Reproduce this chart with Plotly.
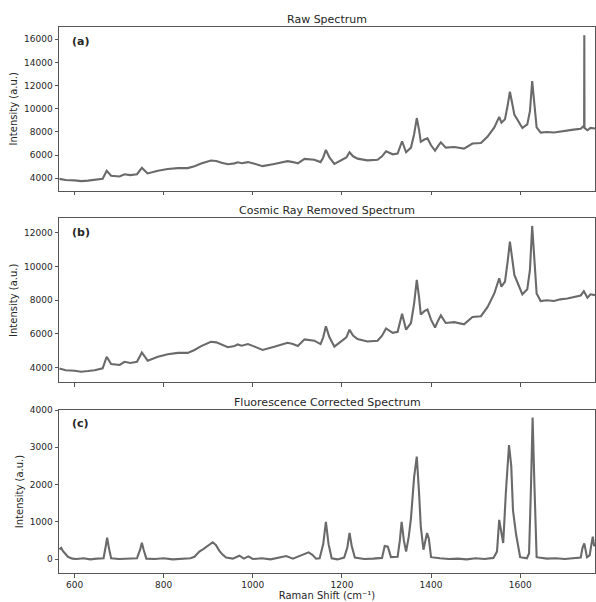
import plotly.graph_objects as go
from plotly.subplots import make_subplots

# ---- data (Raman shift in cm^-1, intensity a.u.) ----
removed_shift = [566, 580, 600, 615, 630, 645, 663, 672, 682, 701, 712, 725, 740, 751, 764,
                 787, 809, 832, 854, 869, 884, 906, 918, 930, 944, 959, 966, 975, 989, 1004,
                 1022, 1048, 1065, 1078, 1090, 1101, 1116, 1128, 1138, 1152, 1158, 1164, 1172,
                 1183, 1198, 1210, 1217, 1225, 1235, 1257, 1280, 1290, 1299, 1306, 1314, 1325,
                 1335, 1344, 1355, 1362, 1368, 1373, 1377, 1385, 1392, 1400, 1409, 1416, 1422,
                 1433, 1452, 1474, 1493, 1512, 1527, 1542, 1553, 1558, 1566, 1572, 1577, 1582,
                 1587, 1594, 1605, 1616, 1622, 1627, 1632, 1637, 1646, 1660, 1676, 1690, 1706,
                 1720, 1736, 1743, 1751, 1758, 1768]
removed_intensity = [3950, 3850, 3820, 3760, 3800, 3850, 3960, 4650, 4220, 4160, 4350, 4280,
                     4350, 4900, 4420, 4650, 4800, 4880, 4880, 5050, 5280, 5540, 5500, 5350,
                     5210, 5290, 5380, 5300, 5400, 5250, 5050, 5240, 5350, 5480, 5400, 5290,
                     5680, 5650, 5600, 5400, 5800, 6450, 5800, 5250, 5540, 5800, 6250, 5900,
                     5700, 5550, 5600, 5900, 6330, 6200, 6070, 6130, 7200, 6250, 6650, 7800,
                     9200, 8200, 7150, 7350, 7450, 6850, 6380, 6800, 7100, 6650, 6700, 6570,
                     7000, 7050, 7600, 8400, 9300, 8800, 9100, 10300, 11470, 10500, 9500, 9050,
                     8350, 8650, 9800, 12400, 10300, 8400, 7950, 8000, 7950, 8050, 8100, 8200,
                     8280, 8530, 8150, 8350, 8300]

spike_shift = [1743.6, 1744.0, 1744.4]
spike_intensity = [8350, 16350, 8350]

corrected_shift = [566, 570, 574, 580, 585, 595, 604, 620, 635, 650, 665, 670, 673, 677, 682,
                   700, 720, 740, 747, 751, 755, 761, 780, 800, 820, 840, 860, 869, 880, 888,
                   895, 903, 910, 917, 925, 932, 940, 955, 970, 980, 990, 1000, 1020, 1040,
                   1060, 1075, 1090, 1105, 1115, 1125, 1133, 1142, 1150, 1158, 1164, 1170,
                   1177, 1190, 1205, 1212, 1217, 1222, 1229, 1250, 1270, 1290, 1296, 1303,
                   1310, 1325, 1330, 1334, 1339, 1344, 1350, 1355, 1362, 1368, 1373, 1377,
                   1383, 1391, 1395, 1400, 1420, 1440, 1460, 1480, 1500, 1520, 1540, 1548,
                   1553, 1557, 1562, 1568, 1575, 1580, 1584, 1591, 1596, 1600, 1615, 1620,
                   1624, 1628, 1632, 1637, 1660, 1680, 1700, 1720, 1736, 1740, 1744, 1750,
                   1756, 1760, 1763, 1766, 1768]
corrected_intensity = [260, 300, 210, 120, 60, 10, 0, 20, -10, 10, 20, 350, 570, 300, 20,
                       0, 10, 20, 250, 440, 250, 10, 0, 20, -10, 10, 20, 60, 200, 260,
                       320, 380, 450, 380, 220, 120, 40, 10, 90, 10, 70, 0, 20, -10,
                       30, 80, 10, 90, 130, 180, 120, 10, 20, 400, 1000, 400,
                       20, -10, 40, 300, 700, 350, 40, 0, 10, 30, 350, 330,
                       50, 60, 500, 1000, 500, 200, 600, 1100, 2200, 2750, 1800, 870,
                       250, 700, 550, 50, 20, 0, 10, -10, 20, 0, 30, 200,
                       1050, 800, 430, 1800, 3060, 2500, 1300, 650, 300, 50, 20, 150,
                       1800, 3800, 2000, 50, 10, 20, 0, 20, 40, 300, 420, 50,
                       100, 400, 600, 350, 400]

x_ticks = [600, 800, 1000, 1200, 1400, 1600]
panel_titles = ["Raw Spectrum", "Cosmic Ray Removed Spectrum", "Fluorescence Corrected Spectrum"]
panel_tags = ["(a)", "(b)", "(c)"]

# raw spectrum = cosmic-ray-removed spectrum with the spike restored
raw_pairs = sorted(zip(removed_shift + spike_shift, removed_intensity + spike_intensity))
raw_shift = [p[0] for p in raw_pairs]
raw_intensity = [p[1] for p in raw_pairs]

LINE = "#6a6a6a"
AX = "#555555"
TXT = "#262626"
FONT = "DejaVu Sans"

fig = make_subplots(rows=3, cols=1, shared_xaxes=False)

series = [(raw_shift, raw_intensity), (removed_shift, removed_intensity),
          (corrected_shift, corrected_intensity)]
for i, (xs, ys) in enumerate(series, start=1):
    fig.add_trace(go.Scatter(x=xs, y=ys, mode="lines", line=dict(color=LINE, width=2.1),
                             showlegend=False, hoverinfo="skip"), row=i, col=1)

W, H = 596, 602
ml, mr, mt, mb = 59, 1, 27, 29
ph = H - mt - mb

def ydom(top_px, bot_px):
    return [(H - mb - bot_px) / ph, (H - mb - top_px) / ph]

domains = [ydom(27, 190.6), ydom(218.3, 382.3), ydom(410, 573)]
y_ranges = [[2940, 17060], [3135, 12853], [-375, 4000]]
y_dtick = [2000, 2000, 1000]

axis_common = dict(showline=True, linecolor=AX, linewidth=1, mirror=True,
                   ticks="outside", ticklen=3.5, tickcolor=AX, tickwidth=1,
                   showgrid=False, zeroline=False, automargin=False,
                   tickfont=dict(family=FONT, size=9, color=TXT))

for i in range(3):
    sfx = "" if i == 0 else str(i + 1)
    fig.layout["xaxis" + sfx].update(range=[565, 1768], tickvals=x_ticks, domain=[0, 1],
                                     showticklabels=(i == 2), anchor="y" + sfx, **axis_common)
    fig.layout["yaxis" + sfx].update(range=y_ranges[i], dtick=y_dtick[i], tick0=0,
                                     tickformat="d", domain=domains[i], anchor="x" + sfx,
                                     title=dict(text="Intensity (a.u.)", standoff=4,
                                                font=dict(family=FONT, size=10, color=TXT)),
                                     **axis_common)

fig.layout["xaxis3"].title = dict(text="Raman Shift (cm⁻¹)", standoff=2,
                                  font=dict(family=FONT, size=10, color=TXT))

title_px = [19, 210, 402]
tag_px = [41, 232, 423]
for i in range(3):
    fig.add_annotation(text=panel_titles[i], xref="paper", yref="paper",
                       x=0.5, y=(H - mb - title_px[i]) / ph, xanchor="center", yanchor="middle",
                       showarrow=False, font=dict(family=FONT, size=11, color=TXT))
    fig.add_annotation(text="<b>" + panel_tags[i] + "</b>", xref="paper", yref="paper",
                       x=(70 - ml) / (W - ml - mr), y=(H - mb - tag_px[i]) / ph,
                       xanchor="left", yanchor="middle", showarrow=False,
                       font=dict(family=FONT, size=11, color=TXT))

fig.update_layout(width=W, height=H, margin=dict(l=ml, r=mr, t=mt, b=mb),
                  paper_bgcolor="white", plot_bgcolor="white",
                  font=dict(family=FONT, color=TXT))

fig.write_html("out.html", config={"displayModeBar": False},
               post_script="document.body.style.margin='0';document.body.style.overflow='hidden';")
